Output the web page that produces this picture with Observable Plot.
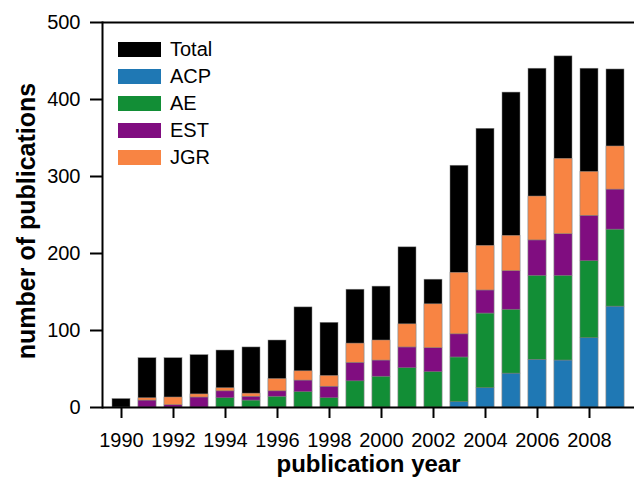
<!DOCTYPE html>
<html>
<head>
<meta charset="utf-8">
<script src="https://cdn.jsdelivr.net/npm/d3@7"></script>
<script src="https://cdn.jsdelivr.net/npm/@observablehq/plot@0.6"></script>
<style>
  html, body { margin: 0; padding: 0; background: #fff; }
  #wrap { position: relative; width: 634px; height: 482px; font-family: "Liberation Sans", Arial, sans-serif; }
  #legend { position: absolute; left: 118px; top: 42px; }
  .row { display: flex; align-items: center; height: 15px; margin-bottom: 12px; }
  .sw { width: 43px; height: 15px; margin-right: 9px; }
  .lb { font-size: 20px; color: #000; line-height: 15px; }
</style>
</head>
<body>
<div id="wrap"><div id="legend"></div></div>
<script>
const years = [1990,1991,1992,1993,1994,1995,1996,1997,1998,1999,2000,2001,2002,2003,2004,2005,2006,2007,2008,2009];
const total = [11,64,64,68,74,78,87,130,110,153,157,208,166,314,362,409,440,456,440,439];
const acp   = [0,0,0,0,0,0,0,0,0,0,0,0,0,7,25,44,62,61,90,131];
const ae    = [0,0,0,0,12,9,14,20,12,34,40,51,46,58,97,83,109,110,100,100];
const est   = [0,9,3,13,9,5,7,15,15,24,21,27,31,30,30,50,46,54,59,52];
const jgr   = [0,3,10,4,4,4,16,12,14,25,26,30,57,80,58,46,57,98,57,56];
const seriesNames = ["ACP","AE","EST","JGR"];
const seriesValues = [acp, ae, est, jgr];
const legendNames = ["Total","ACP","AE","EST","JGR"];
const colors = ["#000000","#1f78b4","#128e36","#800d80","#f88443"];
const xTicks = [1990,1992,1994,1996,1998,2000,2002,2004,2006,2008];
const yTicks = [0,100,200,300,400,500];
const xLabel = "publication year";
const yLabel = "number of publications";

const totalData = years.map((y, i) => ({year: y, value: total[i]}));
const stackData = [];
seriesNames.forEach((s, k) => years.forEach((y, i) => stackData.push({year: y, series: s, value: seriesValues[k][i]})));

const chart = Plot.plot({
  width: 634,
  height: 482,
  marginLeft: 102,
  marginRight: 0,
  marginTop: 22,
  marginBottom: 75,
  style: {fontFamily: "'Liberation Sans', Arial, sans-serif", fontSize: "20px", color: "#000", background: "#fff"},
  x: {type: "band", domain: years, padding: 0.3},
  y: {domain: [0, 500]},
  color: {domain: legendNames, range: colors},
  marks: [
    Plot.barY(totalData, {x: "year", y: "value", fill: colors[0], stroke: "#888", strokeWidth: 0.5}),
    Plot.barY(stackData, {x: "year", y: "value", fill: "series", stroke: "#888", strokeWidth: 0.5}),
    Plot.ruleY([0, 500], {stroke: "#000", strokeWidth: 2}),
    Plot.frame({anchor: "left", stroke: "#000", strokeWidth: 2}),
    Plot.axisY({ticks: yTicks, tickSize: 12, tickPadding: 10, strokeWidth: 2, fontSize: 20, label: null}),
    Plot.axisX({ticks: xTicks, tickSize: 11, tickPadding: 14, strokeWidth: 2, fontSize: 20, tickFormat: d => String(d), label: null}),
    Plot.text([xLabel], {frameAnchor: "bottom", textAnchor: "middle", dy: 64, fontSize: 24, fontWeight: "bold", fill: "#000"}),
    Plot.text([yLabel], {frameAnchor: "left", textAnchor: "middle", rotate: -90, dx: -76, dy: 6, fontSize: 25, fontWeight: "bold", fill: "#000"})
  ]
});
document.getElementById("wrap").prepend(chart);

const legend = d3.select("#legend");
legendNames.forEach((n, i) => {
  const row = legend.append("div").attr("class", "row");
  row.append("div").attr("class", "sw").style("background", colors[i]);
  row.append("div").attr("class", "lb").text(n);
});
</script>
</body>
</html>
